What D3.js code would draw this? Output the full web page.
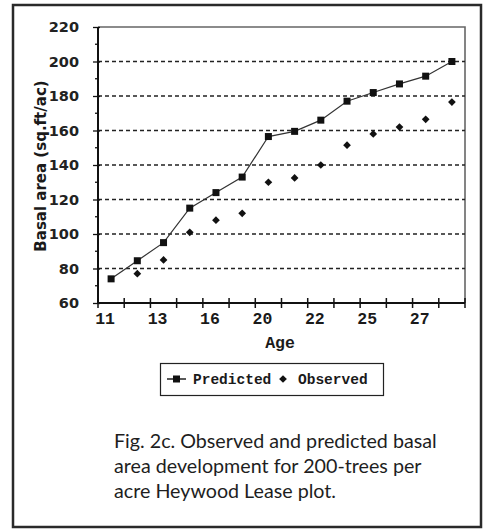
<!DOCTYPE html>
<html>
<head>
<meta charset="utf-8">
<script src="https://cdn.jsdelivr.net/npm/d3@7"></script>
<style>
  html, body { margin: 0; padding: 0; background: #fff; }
  svg { display: block; }
</style>
</head>
<body>
<svg id="chart" width="489" height="529"></svg>
<script>
// Stand age (years) for each measurement
const ages = [11, 12, 13, 15, 16, 18, 20, 21, 22, 24, 25, 26, 27, 28];
// Predicted basal area (sq.ft/ac)
const predicted = [74, 84.5, 95, 115, 124, 133, 156.5, 159.5, 166, 177, 182, 187, 191.5, 200];
// Observed basal area (sq.ft/ac); no measurement at age 11
const observed = [null, 77, 85, 101, 108, 112, 130, 132.5, 140, 151.5, 158, 162, 166.5, 176.5];
// Y axis ticks
const yMajorTicks = [60, 80, 100, 120, 140, 160, 180, 200, 220];
const yMinorTicks = [70, 90, 110, 130, 150, 170, 190, 210];
const gridValues = [80, 100, 120, 140, 160, 180, 200];
// Legend entries and caption lines
const seriesNames = ["Predicted", "Observed"];
const captionLines = [
  "Fig. 2c. Observed and predicted basal",
  "area development for 200-trees per",
  "acre Heywood Lease plot."
];

const svg = d3.select("#chart");

// Outer frame
svg.append("rect")
  .attr("x", 13).attr("y", 5)
  .attr("width", 468).attr("height", 522)
  .attr("fill", "none").attr("stroke", "#2a2a2a").attr("stroke-width", 2.5);

const plot = { left: 98, right: 465, top: 27, bottom: 303 };

const x = d3.scaleBand()
  .domain(ages)
  .range([plot.left, plot.right])
  .paddingInner(0).paddingOuter(0);
const cx = a => x(a) + x.bandwidth() / 2;

const y = d3.scaleLinear()
  .domain([60, 220])
  .range([plot.bottom, plot.top]);

// Plot frame: top and right edges
svg.append("path")
  .attr("d", `M${plot.left},${plot.top}H${plot.right}V${plot.bottom}`)
  .attr("fill", "none").attr("stroke", "#666").attr("stroke-width", 1.6);

// Dashed gridlines
svg.append("g").selectAll("line")
  .data(gridValues).join("line")
  .attr("x1", plot.left).attr("x2", plot.right)
  .attr("y1", d => y(d)).attr("y2", d => y(d))
  .attr("stroke", "#222").attr("stroke-width", 1.3)
  .attr("stroke-dasharray", "4,3");

// Y axis
const yAxis = svg.append("g")
  .attr("transform", `translate(${plot.left},0)`)
  .call(d3.axisLeft(y).tickValues(yMajorTicks).tickSize(5).tickPadding(14));
yAxis.select(".domain").remove();
yAxis.selectAll(".tick line")
  .attr("x1", 2).attr("x2", -5)
  .attr("stroke", "#111").attr("stroke-width", 1.3);
yAxis.selectAll(".tick text")
  .attr("font-family", "'DejaVu Sans', sans-serif")
  .attr("font-weight", "bold")
  .attr("font-size", 14.5)
  .attr("fill", "#222");

// Minor y ticks
svg.append("g").selectAll("line")
  .data(yMinorTicks).join("line")
  .attr("x1", plot.left - 3).attr("x2", plot.left + 1)
  .attr("y1", d => y(d)).attr("y2", d => y(d))
  .attr("stroke", "#111").attr("stroke-width", 1.3);

// Y axis line
svg.append("line")
  .attr("x1", plot.left).attr("x2", plot.left)
  .attr("y1", plot.top).attr("y2", plot.bottom)
  .attr("stroke", "#111").attr("stroke-width", 2);

// X axis: ticks on category boundaries, labels on every other category
const xAxis = svg.append("g")
  .attr("transform", `translate(0,${plot.bottom})`);
const boundaries = ages.map(a => x(a)).concat([plot.right]);
xAxis.selectAll("line.tick")
  .data(boundaries).join("line")
  .attr("class", "tick")
  .attr("x1", d => d).attr("x2", d => d)
  .attr("y1", -5).attr("y2", 5)
  .attr("stroke", "#111").attr("stroke-width", 1.5);
xAxis.append("line")
  .attr("x1", plot.left - 1).attr("x2", plot.right)
  .attr("stroke", "#111").attr("stroke-width", 2);
xAxis.selectAll("text")
  .data(ages.filter((a, i) => i % 2 === 0)).join("text")
  .attr("x", d => cx(d) - 6)
  .attr("y", 21)
  .attr("text-anchor", "middle")
  .attr("font-family", "'Liberation Mono', monospace")
  .attr("font-weight", "bold")
  .attr("font-size", 16.5)
  .attr("fill", "#1a1a1a")
  .text(d => d);

// Axis titles
svg.append("text")
  .attr("transform", `translate(46,${(plot.top + plot.bottom) / 2 + 1}) rotate(-90)`)
  .attr("text-anchor", "middle")
  .attr("font-family", "'DejaVu Sans', sans-serif")
  .attr("font-weight", "bold")
  .attr("font-size", 15)
  .attr("fill", "#1a1a1a")
  .text("Basal area (sq.ft/ac)");

svg.append("text")
  .attr("x", 280).attr("y", 348)
  .attr("text-anchor", "middle")
  .attr("font-family", "'Liberation Mono', monospace")
  .attr("font-weight", "bold")
  .attr("font-size", 16.5)
  .attr("fill", "#1a1a1a")
  .text("Age");

// Predicted line and square markers
const line = d3.line()
  .x((d, i) => cx(ages[i]))
  .y(d => y(d));
svg.append("path")
  .datum(predicted)
  .attr("d", line)
  .attr("fill", "none").attr("stroke", "#333").attr("stroke-width", 1.2);

const sq = 7;
svg.append("g").selectAll("rect")
  .data(predicted).join("rect")
  .attr("x", (d, i) => cx(ages[i]) - sq / 2)
  .attr("y", d => y(d) - sq / 2)
  .attr("width", sq).attr("height", sq)
  .attr("fill", "#111");

// Observed diamond markers
const diamond = d3.symbol().type(d3.symbolDiamond2).size(38);
svg.append("g").selectAll("path")
  .data(observed.map((v, i) => ({ age: ages[i], v })).filter(d => d.v !== null))
  .join("path")
  .attr("transform", d => `translate(${cx(d.age)},${y(d.v)})`)
  .attr("d", diamond)
  .attr("fill", "#111");

// Legend
const legend = svg.append("g");
legend.append("rect")
  .attr("x", 160.5).attr("y", 363.5)
  .attr("width", 223).attr("height", 32)
  .attr("fill", "#fff").attr("stroke", "#222").attr("stroke-width", 1.2);
legend.append("line")
  .attr("x1", 167).attr("x2", 186).attr("y1", 379).attr("y2", 379)
  .attr("stroke", "#222").attr("stroke-width", 1.5);
legend.append("rect")
  .attr("x", 176.5 - 3.5).attr("y", 379 - 3.5)
  .attr("width", 7).attr("height", 7).attr("fill", "#111");
legend.append("path")
  .attr("transform", "translate(283,379)")
  .attr("d", diamond)
  .attr("fill", "#111");
const legendX = [193, 298];
legend.selectAll("text")
  .data(seriesNames).join("text")
  .attr("x", (d, i) => legendX[i])
  .attr("y", 384)
  .attr("font-family", "'Liberation Mono', monospace")
  .attr("font-weight", "bold")
  .attr("font-size", 14.5)
  .attr("fill", "#1a1a1a")
  .text(d => d);

// Caption
const caption = svg.append("g");
const capText = caption.selectAll("text")
  .data(captionLines).join("text")
  .attr("x", 114)
  .attr("y", (d, i) => 448 + i * 25)
  .attr("font-family", "Lato, 'Open Sans', sans-serif")
  .attr("font-size", 21)
  .attr("fill", "#1e1e1e")
  .text(d => d);
// Fit the first line to its column width and use that size for all lines
const firstLen = capText.node().getComputedTextLength();
const capSize = 21 * 323 / firstLen;
capText.attr("font-size", capSize);
</script>
</body>
</html>
